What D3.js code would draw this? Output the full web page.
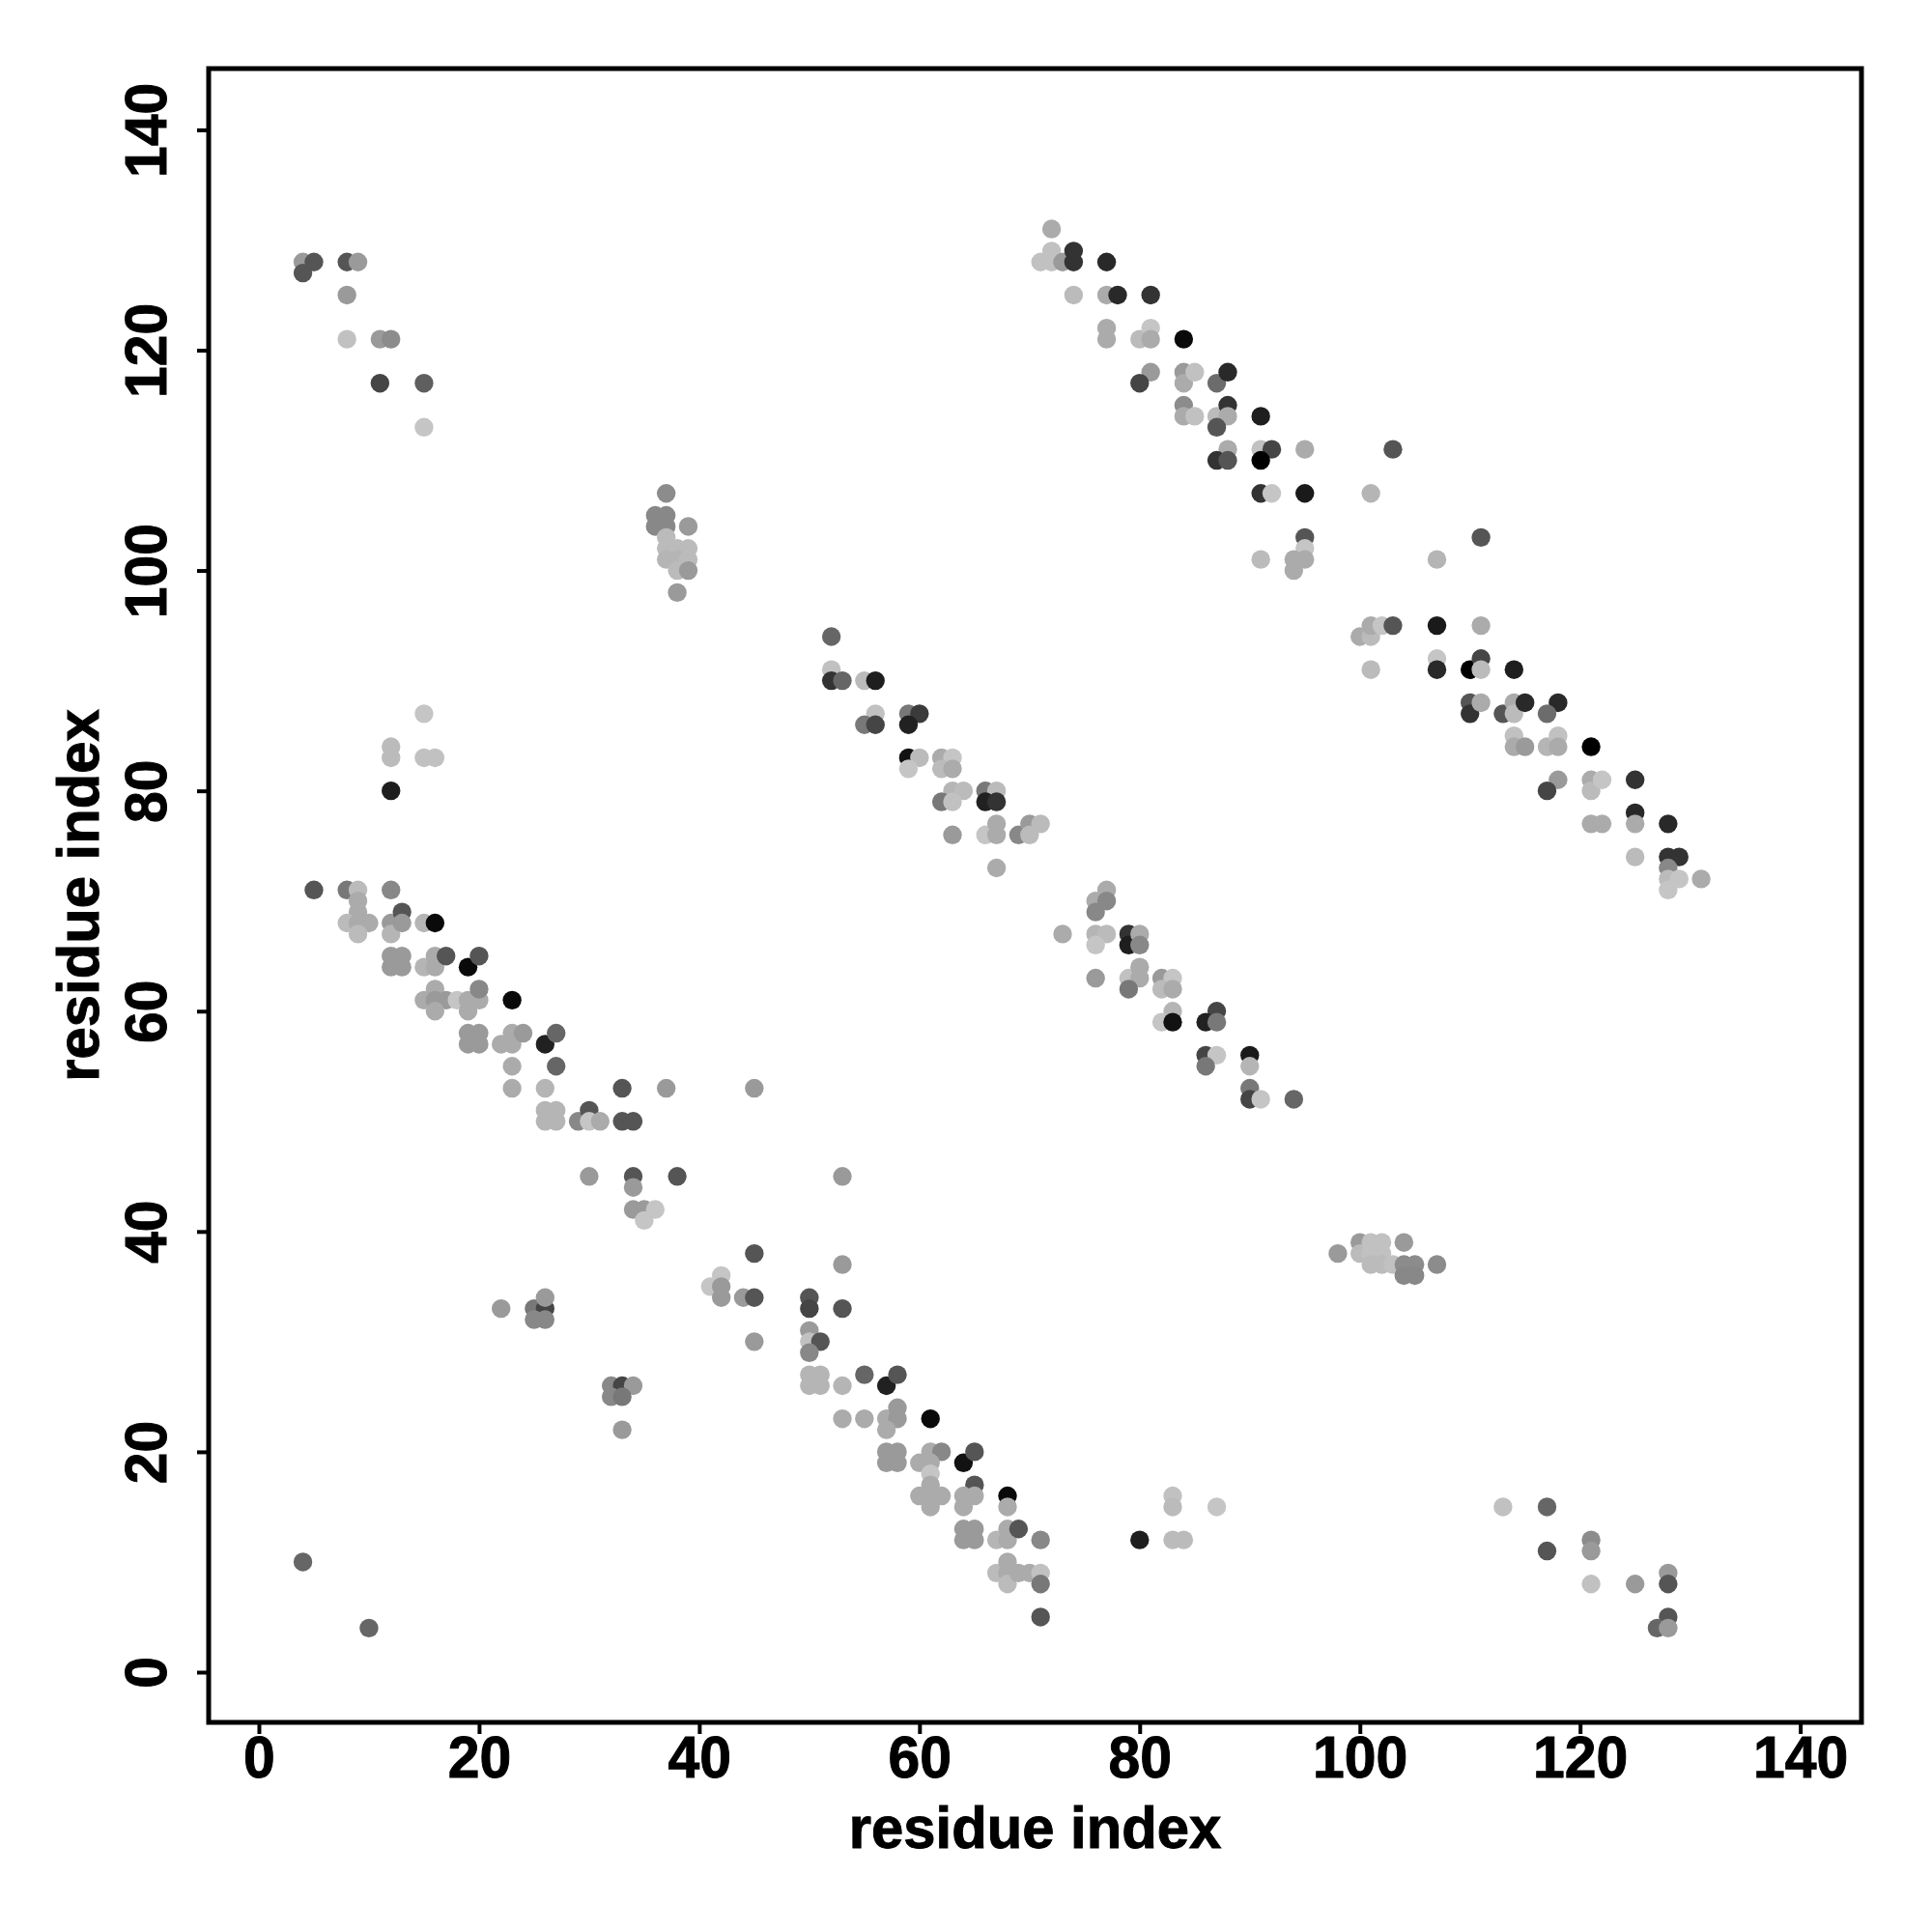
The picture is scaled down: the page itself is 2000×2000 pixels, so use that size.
<!DOCTYPE html>
<html>
<head>
<meta charset="utf-8">
<script src="https://cdn.jsdelivr.net/npm/d3@7"></script>
<style>
  html, body { margin: 0; padding: 0; background: #fff; }
  svg { display: block; }
</style>
</head>
<body>
<svg id="chart" width="2000" height="2000"></svg>
<script>
// ---- data: [residue i, residue j, contact score (0 = weak/light, 1 = strong/black)] ----
const contactsNtermTop = [
  [4,128,.22],[5,128,.57],[4,127,.57],[8,128,.57],[9,128,.22],[8,125,.22],[8,121,.02],
  [11,121,.22],[12,121,.29],[11,117,.65],[15,117,.52],[15,113,0]
];
const contactsCluster37 = [
  [37,107,.29],[36,105,.31],[37,105,.31],[36,104,.31],[37,104,.31],[39,104,.22],[37,103,.05],
  [37,102,.05],[38,102,.05],[39,102,.05],[37,101,.08],[38,101,.08],[39,101,.05],[38,100,.05],
  [39,100,.22],[38,98,.22]
];
const contactsBand72 = [
  [72,131,.13],[72,129,.02],[71,128,.02],[72,128,.02],[73,128,.22],[74,129,.74],[74,128,.74],
  [77,128,.79],[74,125,.05],[77,125,.13],[78,125,.79],[81,125,.74],[77,122,.13],[77,121,.13],
  [80,121,.05],[81,122,0],[81,121,.13],[84,121,.95],[81,118,.22],[80,117,.65],[84,118,.22],
  [84,117,.13],[85,118,.02],[87,117,.45],[88,118,.79],[84,115,.29],[84,114,.13],[85,114,.02],
  [87,114,.05],[88,115,.74],[88,114,.13],[87,113,.57],[91,114,.85],[88,111,.13],[87,110,.74],
  [88,110,.57],[91,111,.02],[92,111,.65],[91,110,1],[95,111,.13],[91,107,.74],[92,107,0],
  [95,107,.87],[95,103,.57],[95,102,0],[91,101,.05],[94,101,.13],[94,100,.13],[95,101,.13],
  [103,111,.57],[101,107,.08],[111,103,.57],[107,101,.08]
];
const contactsBand100 = [
  [100,94,.13],[101,94,.05],[101,95,.13],[102,95,0],[103,95,.57],[107,95,.87],[111,95,.13],
  [101,91,.05],[107,92,0],[107,91,.79],[110,91,1],[111,92,.65],[111,91,.05],[114,91,.85],
  [110,88,.57],[110,87,.74],[111,88,.13],[113,87,.57],[114,88,.13],[114,87,.05],[115,88,.79],
  [118,88,.79],[117,87,.45],[114,85,.02],[114,84,.13],[115,84,.22],[117,84,.08],[118,85,.02],
  [118,84,.13],[121,84,1],[118,81,.22],[117,80,.65],[121,81,.13],[121,80,.05],[122,81,0],
  [125,81,.74],[125,78,.79],[121,77,.13],[122,77,.13],[125,77,.13],[128,77,.79],[125,74,.05],
  [128,74,.74],[129,74,.74],[128,73,.31],[128,72,.05],[129,72,0],[131,72,.13],[128,71,0]
];
const contactsBand52 = [
  [52,94,.48],[52,91,.02],[52,90,.74],[53,90,.48],[55,90,.05],[56,90,.85],[56,87,.02],
  [55,86,.39],[56,86,.65],[59,87,.39],[60,87,.70],[59,86,.83],[59,83,.91],[60,83,.05],
  [59,82,0],[62,83,.13],[63,83,0],[62,82,.05],[63,82,.13],[63,80,.08],[64,80,.05],[62,79,.39],
  [63,79,.02],[66,80,.39],[67,80,.05],[66,79,.83],[67,79,.74],[63,76,.22],[66,76,0],[67,77,.13],
  [67,76,.13],[69,76,.31],[70,77,.22],[70,76,.05],[71,77,.05],[67,73,.13]
];
const contactsBand76 = [
  [77,71,.13],[76,70,.13],[77,70,.31],[76,69,.31],[73,67,.13],[76,67,.08],[77,67,.05],[76,66,0],
  [79,67,.74],[79,66,.85],[80,67,.13],[80,66,.31],[76,63,.22],[79,63,.02],[80,64,.13],[80,63,.13],
  [79,62,.39],[82,63,.22],[83,63,0],[82,62,.05],[83,62,.13],[83,60,.08],[82,59,0],[83,59,.91],
  [87,60,.65],[86,59,.83],[87,59,.39],[86,56,.65],[87,56,0],[86,55,.39],[90,56,.87],[90,55,.08],
  [90,53,.39],[90,52,.65],[91,52,0],[94,52,.48]
];
const contactsBand12 = [
  [15,87,0],[12,84,.05],[12,83,.05],[15,83,.02],[16,83,.02],[12,80,.85],[5,71,.57],[8,71,.39],
  [9,71,.05],[9,70,.13],[9,69,.13],[12,71,.31],[8,68,.05],[9,68,.13],[10,68,.13],[9,67,.05],
  [12,68,.22],[12,67,.08],[13,69,.57],[13,68,.22],[15,68,.08],[16,68,.95],[12,65,.22],[13,65,.22],
  [12,64,.22],[13,64,.22],[15,64,.08],[16,65,.13],[16,64,.13],[17,65,.57],[19,64,.95],[20,65,.57],
  [16,62,.13],[15,61,.13],[16,61,.22],[17,61,.22],[16,60,.13],[18,61,0],[19,61,.13],[20,61,.13],
  [20,62,.31],[19,60,.13],[23,61,.95],[19,58,.22],[20,58,.22],[19,57,.22],[20,57,.22],[22,57,.13],
  [23,58,.13],[23,57,.13],[24,58,.22],[26,57,.83],[27,58,.48],[23,55,.13],[27,55,.48],[23,53,.13],
  [26,53,.08],[33,53,.57],[37,53,.22],[45,53,.22],[26,51,.08],[27,51,.08],[26,50,.08],[27,50,.08],
  [29,50,.31],[30,51,.57],[30,50,0],[31,50,.13],[33,50,.57],[34,50,.57]
];
const contactsBand30 = [
  [30,45,.22],[34,45,.57],[38,45,.57],[34,44,.22],[34,42,.22],[35,42,.22],[36,42,0],[35,41,0],
  [45,38,.57],[42,36,0],[41,35,0],[42,35,.22],[42,34,.22],[44,34,.22],[45,34,.57],[45,30,.22],
  [22,33,.22],[25,33,.39],[26,33,.65],[26,34,.22],[25,32,.31],[26,32,.31],[32,26,.31],[33,26,.65],
  [34,26,.22],[32,25,.31],[33,25,.39],[33,22,.22],[4,10,.48],[10,4,.48]
];
const contactsBand50 = [
  [53,45,.22],[53,37,.22],[50,34,.57],[50,33,.65],[53,33,.57],[50,31,.22],[50,30,.02],[51,30,.57],
  [50,29,.31],[50,27,.08],[51,27,.08],[50,26,.08],[51,26,.08],[53,26,.08],[55,27,.48],[57,26,.83],
  [58,27,.57],[53,23,.13],[55,23,.13],[57,23,.13],[58,24,.22],[58,23,.22],[57,22,.13],[61,23,.95],
  [57,20,.22],[58,20,.22],[57,19,.22],[58,19,.22],[60,19,.13],[61,20,.13],[62,20,.31],[61,19,.13],
  [61,18,0],[64,19,.91],[65,20,.57],[65,17,.57],[60,16,.13],[61,17,.13],[61,16,.13],[62,16,.13],
  [61,15,.13],[64,16,.13],[64,15,.13],[65,16,.13],[68,16,.95],[68,15,.13],[64,13,.22],[65,13,.22],
  [64,12,.22],[65,12,.22],[67,12,.08],[68,13,.13],[68,12,.13],[69,13,.57],[71,12,.31],[67,9,.05],
  [68,10,.13],[68,9,.13],[68,8,.05],[69,9,.13],[70,9,.13],[71,9,.02],[71,8,.39],[71,5,.57],
  [80,12,.85],[83,16,.02],[83,15,.05],[87,15,0],[83,12,.05],[84,12,.05]
];
const contactsCluster100 = [
  [98,38,.22],[100,39,.22],[100,38,.05],[101,39,.02],[102,39,.02],[101,38,.02],[102,38,.02],
  [101,37,.05],[102,37,.05],[103,37,.02],[104,39,.22],[104,37,.29],[105,37,.29],[104,36,.31],
  [105,36,.31],[107,37,.29]
];
const contactsCtermLow = [
  [113,15,.02],[117,15,.48],[117,11,.57],[121,12,.29],[121,11,.22],[121,8,.02],[125,8,.22],
  [128,9,.22],[128,8,.57],[128,5,.57],[127,4,.48],[128,4,.22]
];
const tickValues = [0, 20, 40, 60, 80, 100, 120, 140];
const xLabel = "residue index";
const yLabel = "residue index";

// ---- layout ----
const allContacts = [].concat(
  contactsNtermTop, contactsCluster37, contactsBand72, contactsBand100, contactsBand52,
  contactsBand76, contactsBand12, contactsBand30, contactsBand50, contactsCluster100, contactsCtermLow
);

const mLeft = 216, mRight = 1927, mTop = 71, mBottom = 1783;
const lo = 1, hi = 140, pad = 0.04 * (hi - lo);
const x = d3.scaleLinear().domain([lo - pad, hi + pad]).range([mLeft, mRight]);
const y = d3.scaleLinear().domain([lo - pad, hi + pad]).range([mBottom, mTop]);
const grey = d3.scaleLinear().domain([0, 1]).range(["#c5c5c5", "#000000"]);

const FONT = "'Liberation Sans', Arial, Helvetica, sans-serif";
const svg = d3.select("#chart");
svg.append("rect").attr("width", 2000).attr("height", 2000).attr("fill", "#fff");

// points
svg.append("g").selectAll("circle").data(allContacts).join("circle")
  .attr("cx", d => x(d[0]))
  .attr("cy", d => y(d[1]))
  .attr("r", 9.7)
  .attr("fill", d => grey(d[2]));

// box
svg.append("rect")
  .attr("x", mLeft).attr("y", mTop)
  .attr("width", mRight - mLeft).attr("height", mBottom - mTop)
  .attr("fill", "none").attr("stroke", "#000").attr("stroke-width", 5);

// x axis
const gx = svg.append("g").attr("transform", `translate(0,${mBottom})`)
  .call(d3.axisBottom(x).tickValues(tickValues).tickSize(12).tickPadding(0).tickFormat(d3.format("d")));
gx.select(".domain").remove();
gx.selectAll(".tick line").attr("stroke", "#000").attr("stroke-width", 4);
gx.selectAll(".tick text")
  .attr("y", 0).attr("dy", 0)
  .attr("transform", "translate(0,57) scale(0.95,1)")
  .attr("font-family", FONT).attr("font-weight", "bold").attr("font-size", 62)
  .attr("fill", "#000").attr("stroke", "#000").attr("stroke-width", 1);

// y axis
const gy = svg.append("g").attr("transform", `translate(${mLeft},0)`)
  .call(d3.axisLeft(y).tickValues(tickValues).tickSize(12).tickPadding(0).tickFormat(d3.format("d")));
gy.select(".domain").remove();
gy.selectAll(".tick line").attr("stroke", "#000").attr("stroke-width", 4);
gy.selectAll(".tick text")
  .attr("x", 0).attr("y", 0).attr("dy", 0)
  .attr("text-anchor", "middle")
  .attr("transform", "translate(-44,0) rotate(-90) scale(0.95,1)")
  .attr("font-family", FONT).attr("font-weight", "bold").attr("font-size", 62)
  .attr("fill", "#000").attr("stroke", "#000").attr("stroke-width", 1);

// axis titles
svg.append("text")
  .attr("transform", `translate(${(mLeft + mRight) / 2},1913) scale(0.98,1)`)
  .attr("text-anchor", "middle")
  .attr("font-family", FONT).attr("font-weight", "bold").attr("font-size", 61)
  .attr("stroke", "#000").attr("stroke-width", 1)
  .text(xLabel);
svg.append("text")
  .attr("transform", `translate(102,${(mTop + mBottom) / 2}) rotate(-90) scale(0.98,1)`)
  .attr("text-anchor", "middle")
  .attr("font-family", FONT).attr("font-weight", "bold").attr("font-size", 61)
  .attr("stroke", "#000").attr("stroke-width", 1)
  .text(yLabel);
</script>
</body>
</html>
